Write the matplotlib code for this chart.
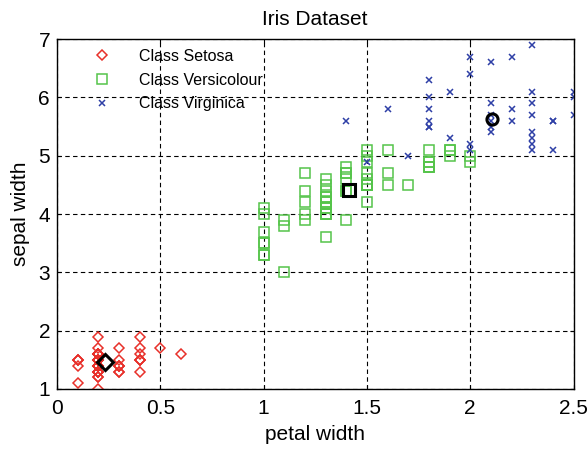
import matplotlib
matplotlib.use("Agg")
import matplotlib.pyplot as plt

plt.rcParams['font.family'] = ['Liberation Sans', 'DejaVu Sans']

# Cluster: Class Setosa (petal width, petal length)
setosa_x = [0.2, 0.2, 0.2, 0.2, 0.2, 0.4, 0.3, 0.2, 0.2, 0.1, 0.2, 0.2, 0.1, 0.1, 0.2,
            0.4, 0.4, 0.3, 0.3, 0.3, 0.2, 0.4, 0.2, 0.5, 0.2, 0.2, 0.4, 0.2, 0.2, 0.2,
            0.2, 0.4, 0.1, 0.2, 0.2, 0.2, 0.2, 0.1, 0.2, 0.2, 0.3, 0.3, 0.2, 0.6, 0.4,
            0.3, 0.2, 0.2, 0.2, 0.2]
setosa_y = [1.4, 1.4, 1.3, 1.5, 1.4, 1.7, 1.4, 1.5, 1.4, 1.5, 1.5, 1.6, 1.4, 1.1, 1.2,
            1.5, 1.3, 1.4, 1.7, 1.5, 1.7, 1.5, 1.0, 1.7, 1.9, 1.6, 1.6, 1.5, 1.4, 1.6,
            1.6, 1.5, 1.5, 1.4, 1.5, 1.2, 1.3, 1.5, 1.3, 1.5, 1.3, 1.3, 1.3, 1.6, 1.9,
            1.4, 1.6, 1.4, 1.5, 1.4]

# Cluster: Class Versicolour
versi_x = [1.4, 1.5, 1.5, 1.3, 1.5, 1.3, 1.6, 1.0, 1.3, 1.4, 1.0, 1.5, 1.0, 1.4, 1.3,
           1.4, 1.5, 1.0, 1.5, 1.1, 1.8, 1.3, 1.2, 1.3, 1.4, 1.4, 1.5, 1.0, 1.1,
           1.0, 1.2, 1.6, 1.5, 1.6, 1.5, 1.3, 1.3, 1.3, 1.2, 1.4, 1.2, 1.0, 1.3, 1.2,
           1.3, 1.3, 1.1, 1.3,
           1.7, 1.8, 1.8, 1.8, 1.8, 1.8, 1.9, 1.9, 1.9, 2.0, 2.0, 1.5, 1.5]
versi_y = [4.7, 4.5, 4.9, 4.0, 4.6, 4.5, 4.7, 3.3, 4.6, 3.9, 3.5, 4.2, 4.0, 4.7, 3.6,
           4.4, 4.5, 4.1, 4.5, 3.9, 4.8, 4.0, 4.7, 4.3, 4.4, 4.8, 4.5, 3.5, 3.8,
           3.7, 3.9, 5.1, 4.5, 4.5, 4.7, 4.4, 4.1, 4.0, 4.4, 4.6, 4.0, 3.3, 4.2, 4.2,
           4.2, 4.3, 3.0, 4.1,
           4.5, 4.9, 4.9, 4.8, 4.8, 5.1, 5.1, 5.1, 5.0, 5.0, 4.9, 5.0, 5.1]

# Cluster: Class Virginica
virg_x = [2.5, 2.1, 1.8, 2.2, 2.1, 1.8, 1.8, 2.5, 2.0, 1.9, 2.1, 2.4, 2.3, 1.8, 2.2,
          2.3, 2.3, 2.0, 2.1, 1.8, 2.1, 1.6, 1.9, 2.0, 2.2, 1.4, 2.3, 2.4, 1.8, 2.1,
          2.4, 2.3, 2.3, 2.5, 2.3, 2.0, 2.3, 1.5, 1.7]
virg_y = [6.0, 5.9, 5.6, 5.8, 6.6, 6.3, 5.8, 6.1, 5.1, 5.3, 5.5, 5.1, 5.3, 5.5, 6.7,
          6.9, 5.7, 6.7, 5.7, 6.0, 5.6, 5.8, 6.1, 6.4, 5.6, 5.6, 6.1, 5.6, 5.5, 5.4,
          5.6, 5.1, 5.9, 5.7, 5.2, 5.2, 5.4, 4.9, 5.0]

# Cluster centres
centre_x = [0.233, 1.411, 2.104]
centre_y = [1.47, 4.42, 5.63]
centre_markers = ['D', 's', 'o']

labels = ['Class Setosa', 'Class Versicolour', 'Class Virginica']
title = 'Iris Dataset'
xlabel = 'petal width'
ylabel = 'sepal width'
xticks = [0, 0.5, 1, 1.5, 2, 2.5]
xticklabels = ['0', '0.5', '1', '1.5', '2', '2.5']
yticks = [1, 2, 3, 4, 5, 6, 7]

red = '#e8302a'
green = '#55c44a'
blue = '#2e3fa6'

fig = plt.figure(figsize=(5.87, 4.49), dpi=100)
ax = fig.add_axes([57 / 587, 1 - 389 / 449, (573.5 - 57) / 587, (389 - 39) / 449])

ax.plot(setosa_x, setosa_y, linestyle='none', marker='D', markersize=5,
        markerfacecolor='none', markeredgecolor=red, markeredgewidth=1.1, label=labels[0])
ax.plot(versi_x, versi_y, linestyle='none', marker='s', markersize=7.5,
        markerfacecolor='none', markeredgecolor=green, markeredgewidth=1.1, label=labels[1])
ax.plot(virg_x, virg_y, linestyle='none', marker='x', markersize=4,
        markeredgecolor=blue, markeredgewidth=1.1, label=labels[2])

for cx, cy, m in zip(centre_x, centre_y, centre_markers):
    ax.plot([cx], [cy], linestyle='none', marker=m, markersize=8,
            markerfacecolor='none', markeredgecolor='black', markeredgewidth=2.2)

ax.set_xlim(0, 2.5)
ax.set_ylim(1, 7)
ax.set_xticks(xticks)
ax.set_xticklabels(xticklabels)
ax.set_yticks(yticks)
ax.tick_params(direction='in', length=3, labelsize=15, width=0.8, top=True, right=True)
ax.tick_params(axis='x', pad=7)
ax.tick_params(axis='y', pad=5)
ax.grid(True, linestyle=(0, (4, 3)), color='black', linewidth=0.8)
for s in ax.spines.values():
    s.set_linewidth(1.0)

ax.set_title(title, fontsize=15, pad=10)
ax.set_xlabel(xlabel, fontsize=15, labelpad=5)
ax.set_ylabel(ylabel, fontsize=15, labelpad=6)

leg = ax.legend(loc='upper left', bbox_to_anchor=(0.050, 0.99), frameon=False,
                fontsize=11.5, handlelength=1.6, handletextpad=1.5, labelspacing=0.55,
                borderaxespad=0.0, borderpad=0.4, numpoints=1)

fig.savefig('out.png', dpi=100)
